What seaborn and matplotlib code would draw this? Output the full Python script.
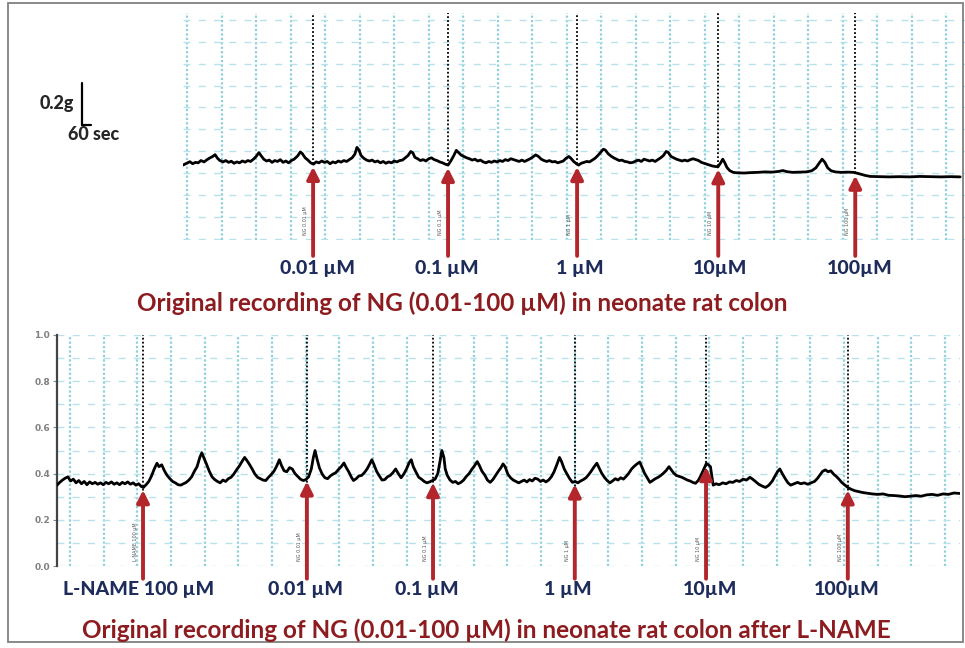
import numpy as np
import matplotlib
matplotlib.use("Agg")
import matplotlib.pyplot as plt
import seaborn as sns
from matplotlib.lines import Line2D
from matplotlib.patches import Rectangle

# ---- data (time in grid divisions, force in g) ----
top_t = [-0.06, 0.05, 0.14, 0.22, 0.30, 0.38, 0.46, 0.55, 0.62, 0.70, 0.80, 0.87, 0.94, 1.01, 1.10,
         1.18, 1.26, 1.34, 1.42, 1.50, 1.58, 1.66, 1.74, 1.82, 1.90, 1.98, 2.06, 2.14, 2.20, 2.28,
         2.36, 2.44, 2.52, 2.60, 2.68, 2.76, 2.84, 2.92, 3.00, 3.08, 3.16, 3.26, 3.34, 3.40, 3.48,
         3.56, 3.64, 3.72, 3.80, 3.88, 3.96, 4.04, 4.12, 4.20, 4.28, 4.36, 4.44, 4.52, 4.60, 4.68,
         4.76, 4.84, 4.92, 4.98, 5.04, 5.10, 5.18, 5.26, 5.34, 5.42, 5.50, 5.58, 5.66, 5.74, 5.82,
         5.90, 5.98, 6.06, 6.14, 6.22, 6.30, 6.38, 6.46, 6.54, 6.60, 6.66, 6.74, 6.82, 6.90, 6.98,
         7.06, 7.14, 7.22, 7.30, 7.38, 7.46, 7.54, 7.62, 7.70, 7.78, 7.86, 7.92, 8.00, 8.08, 8.16,
         8.24, 8.32, 8.40, 8.48, 8.56, 8.64, 8.72, 8.80, 8.88, 8.96, 9.04, 9.12, 9.20, 9.28, 9.36,
         9.44, 9.52, 9.60, 9.68, 9.76, 9.84, 9.92, 10.00, 10.08, 10.16, 10.24, 10.32, 10.40, 10.48,
         10.56, 10.64, 10.72, 10.80, 10.88, 10.96, 11.04, 11.12, 11.18, 11.26, 11.34, 11.40, 11.48,
         11.56, 11.64, 11.72, 11.80, 11.88, 11.96, 12.04, 12.12, 12.18, 12.26, 12.34, 12.42, 12.50,
         12.58, 12.66, 12.74, 12.82, 12.90, 12.98, 13.06, 13.14, 13.22, 13.30, 13.38, 13.46, 13.54,
         13.62, 13.70, 13.78, 13.86, 13.94, 14.00, 14.08, 14.16, 14.24, 14.32, 14.40, 14.48, 14.56,
         14.64, 14.72, 14.80, 14.88, 14.96, 15.04, 15.12, 15.20, 15.28, 15.36, 15.44, 15.52, 15.58,
         15.64, 15.70, 15.78, 15.88, 16.00, 16.20, 16.40, 16.60, 16.80, 17.00, 17.20, 17.32, 17.44,
         17.60, 17.80, 18.00, 18.16, 18.28, 18.38, 18.46, 18.54, 18.62, 18.72, 18.84, 19.00, 19.20,
         19.36, 19.48, 19.60, 19.72, 19.86, 20.10, 20.40, 20.70, 21.00, 21.30, 21.60, 21.90, 22.20,
         22.46]
top_v = [.330, .338, .345, .336, .342, .340, .350, .344, .352, .360, .368, .376, .360, .350, .344,
         .350, .342, .347, .338, .344, .340, .348, .343, .350, .346, .356, .368, .385, .372, .356,
         .348, .352, .342, .350, .346, .354, .342, .348, .340, .350, .356, .370, .388, .380, .362,
         .352, .340, .334, .344, .340, .348, .342, .346, .336, .344, .340, .348, .343, .350, .346,
         .354, .362, .378, .408, .396, .372, .360, .352, .348, .352, .344, .348, .340, .346, .338,
         .344, .340, .348, .344, .350, .352, .362, .372, .390, .384, .364, .358, .350, .354, .348,
         .358, .362, .354, .350, .344, .340, .334, .330, .348, .370, .395, .386, .374, .368, .362,
         .358, .352, .356, .348, .352, .344, .340, .346, .342, .348, .344, .350, .346, .354, .350,
         .358, .354, .350, .346, .352, .346, .352, .358, .366, .375, .368, .356, .350, .346,
         .350, .344, .346, .340, .344, .348, .360, .368, .360, .346, .336, .330, .338,
         .342, .346, .344, .352, .360, .372, .386, .400, .396, .380, .370, .362, .356,
         .350, .352, .346, .344, .340, .342, .348, .352, .346, .356, .352, .348, .352,
         .346, .354, .362, .372, .390, .386, .368, .362, .356, .352, .348, .352, .348,
         .354, .358, .354, .350, .342, .338, .334, .330, .326, .324, .322, .340, .356,
         .340, .320, .306, .298, .296, .295, .297, .298, .300, .299, .302, .306, .301,
         .298, .299, .300, .305, .318, .340, .356, .342, .318, .305, .300, .298, .299,
         .298, .294, .289, .284, .280, .279, .278, .279, .278, .280, .279, .278, .279,
         .278]

bot_t = [-0.38, -0.30, -0.22, -0.14, -0.06, 0.02, 0.10, 0.18, 0.26, 0.34, 0.42, 0.50, 0.58, 0.66,
         0.74, 0.82, 0.90, 0.98, 1.06, 1.14, 1.22, 1.30, 1.38, 1.46, 1.54, 1.62, 1.70, 1.78, 1.86,
         1.94, 2.02, 2.10, 2.16, 2.24, 2.32, 2.40, 2.48, 2.56, 2.62, 2.70, 2.78, 2.86, 2.94, 3.02,
         3.10, 3.18, 3.26, 3.34, 3.42, 3.50, 3.58, 3.66, 3.74, 3.82, 3.88, 3.94, 4.02, 4.10, 4.18,
         4.26, 4.34, 4.42, 4.50, 4.58, 4.66, 4.74, 4.82, 4.90, 4.98, 5.06, 5.14, 5.20, 5.28, 5.36,
         5.44, 5.52, 5.60, 5.68, 5.76, 5.84, 5.92, 6.00, 6.08, 6.16, 6.22, 6.30, 6.38, 6.46, 6.54,
         6.62, 6.70, 6.78, 6.86, 6.94, 7.02, 7.10, 7.16, 7.21, 7.27, 7.34, 7.42, 7.50, 7.58, 7.66,
         7.74, 7.82, 7.90, 7.98, 8.06, 8.12, 8.20, 8.28, 8.34, 8.42, 8.50, 8.58, 8.66, 8.74, 8.82,
         8.88, 8.94, 9.02, 9.10, 9.18, 9.26, 9.34, 9.42, 9.50, 9.58, 9.66, 9.74, 9.82, 9.90, 9.98,
         10.04, 10.10, 10.18, 10.26, 10.34, 10.42, 10.50, 10.58, 10.66, 10.74, 10.82, 10.88, 10.94,
         11.00, 11.04, 11.10, 11.18, 11.26, 11.34, 11.42, 11.50, 11.58, 11.66, 11.74, 11.82, 11.90,
         11.98, 12.04, 12.12, 12.20, 12.28, 12.36, 12.44, 12.52, 12.60, 12.68, 12.74, 12.80, 12.88,
         12.96, 13.04, 13.12, 13.20, 13.28, 13.36, 13.44, 13.52, 13.60, 13.68, 13.76, 13.84, 13.92,
         14.00, 14.08, 14.16, 14.24, 14.32, 14.40, 14.46, 14.54, 14.62, 14.70, 14.78, 14.86, 14.94,
         15.02, 15.10, 15.18, 15.26, 15.34, 15.42, 15.50, 15.56, 15.64, 15.72, 15.80, 15.88, 15.96,
         16.04, 16.12, 16.20, 16.28, 16.36, 16.44, 16.52, 16.60, 16.68, 16.76, 16.82, 16.90, 16.98,
         17.06, 17.14, 17.22, 17.30, 17.38, 17.46, 17.54, 17.62, 17.68, 17.76, 17.84, 17.92, 18.00,
         18.08, 18.16, 18.24, 18.32, 18.40, 18.48, 18.56, 18.64, 18.72, 18.78, 18.84, 18.88, 18.92,
         19.00, 19.10, 19.20, 19.30, 19.40, 19.50, 19.60, 19.70, 19.80, 19.90, 20.00, 20.08, 20.16,
         20.26, 20.36, 20.46, 20.56, 20.66, 20.74, 20.82, 20.88, 20.96, 21.04, 21.12, 21.20, 21.30,
         21.40, 21.50, 21.60, 21.70, 21.80, 21.90, 21.98, 22.06, 22.14, 22.22, 22.30, 22.38, 22.46,
         22.54, 22.62, 22.70, 22.78, 22.88, 22.98, 23.08, 23.20, 23.32, 23.46, 23.60, 23.76, 23.92,
         24.08, 24.24, 24.40, 24.56, 24.72, 24.88, 25.04, 25.20, 25.36, 25.52, 25.68, 25.84, 26.00,
         26.18]
bot_v = [.350, .362, .372, .380, .386, .368, .376, .360, .370, .356, .366, .352, .364, .356,
         .362, .354, .360, .352, .362, .356, .364, .354, .360, .352, .362, .356, .364, .354, .360,
         .350, .356, .344, .340, .352, .366, .390, .420, .445, .430, .438, .412, .392, .378, .366,
         .360, .352, .350, .356, .362, .372, .386, .410, .430, .470, .490, .468, .440, .410, .386,
         .374, .366, .360, .372, .366, .378, .384, .398, .416, .432, .452, .470, .458, .440, .420,
         .398, .384, .378, .372, .370, .384, .396, .410, .432, .460, .436, .412, .408, .426, .420,
         .400, .388, .376, .370, .374, .386, .420, .470, .500, .462, .424, .398, .382, .378, .390,
         .398, .404, .418, .430, .446, .428, .408, .384, .370, .378, .390, .392, .404, .420, .442,
         .460, .440, .410, .390, .372, .374, .386, .392, .404, .420, .400, .382, .398, .420, .448,
         .460, .430, .406, .384, .376, .366, .360, .364, .370, .376, .400, .448, .500,
         .470, .420, .392, .372, .362, .366, .356, .362, .372, .388, .400, .418, .434,
         .452, .436, .410, .394, .372, .362, .374, .392, .410, .426, .442, .430, .398,
         .382, .372, .366, .360, .366, .372, .364, .374, .368, .380, .376, .366, .372,
         .364, .372, .386, .408, .438, .470, .452, .420, .398, .378, .362, .366, .360,
         .368, .374, .382, .396, .412, .430, .445, .426, .402, .384, .370, .360, .368,
         .378, .372, .382, .376, .388, .402, .420, .432, .442, .450, .430, .402, .382,
         .362, .370, .378, .384, .392, .402, .414, .430, .418, .402, .392, .388, .384,
         .378, .372, .368, .362, .358, .370, .392, .418, .444, .438, .430, .390, .350,
         .356, .352, .360, .356, .364, .362, .370, .366, .376, .372, .384, .376, .366,
         .354, .346, .340, .350, .368, .390, .410, .420, .398, .378, .360, .350, .356,
         .362, .356, .360, .354, .360, .366, .378, .394, .410, .416, .408, .412, .398,
         .388, .376, .362, .352, .340, .332, .326, .322, .318, .315, .312, .310, .312,
         .306, .305, .303, .300, .302, .305, .302, .308, .310, .306, .312, .310, .316,
         .314]

top_events = [3.71, 7.62, 11.36, 15.45, 19.42]
top_labels = ["0.01 µM", "0.1 µM", "1 µM", "10µM", "100µM"]
top_tags = ["NG 0.01 µM", "NG 0.1 µM", "NG 1 µM", "NG 10 µM", "NG 100 µM"]
bot_events = [2.15, 6.97, 10.68, 14.85, 18.71, 22.88]
bot_labels = ["L-NAME 100 µM", "0.01 µM", "0.1 µM", "1 µM", "10µM", "100µM"]
bot_tags = ["L-NAME 100 µM", "NG 0.01 µM", "NG 0.1 µM", "NG 1 µM", "NG 10 µM", "NG 100 µM"]

top_title = "Original recording of NG (0.01-100 µM) in neonate rat colon"
bot_title = "Original recording of NG (0.01-100 µM) in neonate rat colon after L-NAME"

sns.set_style("white")
plt.rcParams['font.family'] = ['Lato', 'DejaVu Sans']

W, H = 965, 648
fig = plt.figure(figsize=(W / 100, H / 100), dpi=100)

RED = "#b3262b"
NAVY = "#1e2c5c"
MAROON = "#8c1c1f"
VGRID = "#8fd0dc"
HGRID = "#b8e2ea"


def px(x, y):
    return x / W, 1 - y / H


def panel(rect, t, v, xlim, vgrid, hgrid, events, tags, tail, full_marker):
    ax = fig.add_axes(rect)
    ax.set_xlim(*xlim)
    ax.set_ylim(0, 1)
    for g in vgrid:
        ax.axvline(g, color=VGRID, lw=1.6, ls=(0, (1, 1)), zorder=1)
    for g in hgrid:
        ax.axhline(g, color=HGRID, lw=1.0, ls=(0, (5, 6)), zorder=1)
    sns.lineplot(x=t, y=v, ax=ax, color="black", lw=2.0, estimator=None, sort=False, zorder=4)
    for ev, tag in zip(events, tags):
        lvl = np.interp(ev, t, v)
        ymin = 0 if full_marker else lvl
        ax.plot([ev, ev], [ymin, 1], color="black", lw=1.3, ls=(0, (1, 1.2)), zorder=3)
        ax.annotate("", xy=(ev, lvl - 0.012), xytext=(ev, tail),
                    arrowprops=dict(arrowstyle="-|>", color=RED, lw=2.8, mutation_scale=18,
                                    shrinkA=0, shrinkB=0),
                    annotation_clip=False, zorder=5)
        ax.text(ev - 0.22, 0.02, tag, rotation=90, fontsize=3.5, color="#555555",
                ha="center", va="bottom", family="DejaVu Sans")
    for s in ax.spines.values():
        s.set_visible(False)
    ax.set_xticks([])
    ax.set_yticks([])
    return ax


# upper recording
x0, y0 = px(183, 240)
ax1 = panel([x0, y0, (965 - 183) / W, 227 / H], top_t, top_v, (-0.06, 22.6),
            [0.06 + k for k in range(23)], [0.005 + 0.0965 * k for k in range(11)],
            top_events, top_tags, -0.07, False)

# lower recording
x0, y0 = px(57, 566)
ax2 = panel([x0, y0, 903 / W, 231 / H], bot_t, bot_v, (-0.38, 26.18),
            [0.99 * k for k in range(27)], [0.1 * k for k in range(11)],
            bot_events, bot_tags, -0.055, True)
ax2.spines["left"].set_visible(True)
ax2.spines["left"].set_color("#444444")
ax2.spines["left"].set_linewidth(1.6)
ax2.set_yticks([0, 0.2, 0.4, 0.6, 0.8, 1.0])
ax2.set_yticklabels(["0.0", "0.2", "0.4", "0.6", "0.8", "1.0"], fontsize=6.5, color="#808080",
                    family="DejaVu Sans", fontweight="bold")
ax2.tick_params(axis="y", length=3, width=0.8, color="#888888", pad=2, left=True)

# dose labels
top_lx = [317, 447, 580, 720, 860]
bot_lx = [139, 306, 427, 568, 710, 847]
for x, lab in zip(top_lx, top_labels):
    fig.text(*px(x, 268), lab, ha="center", va="center", fontsize=14, fontweight="black", color=NAVY)
for x, lab in zip(bot_lx, bot_labels):
    fig.text(*px(x, 590), lab, ha="center", va="center", fontsize=14, fontweight="black", color=NAVY)

fig.text(*px(462, 303), top_title, ha="center", va="center", fontsize=17.5, fontweight="bold", color=MAROON)
fig.text(*px(486, 630), bot_title, ha="center", va="center", fontsize=17.5, fontweight="bold", color=MAROON)

# scale bar
fig.add_artist(Line2D([82 / W, 82 / W], [1 - 83 / H, 1 - 125 / H], color="black", lw=1.6,
                      transform=fig.transFigure))
fig.add_artist(Line2D([82 / W, 91 / W], [1 - 125 / H, 1 - 125 / H], color="black", lw=1.6,
                      transform=fig.transFigure))
fig.text(*px(57, 103), "0.2g", ha="center", va="center", fontsize=13, fontweight="black")
fig.text(*px(94, 134), "60 sec", ha="center", va="center", fontsize=13, fontweight="black")

# outer frame
fig.add_artist(Rectangle((8 / W, 1 - 642 / H), (963 - 8) / W, (642 - 3) / H, fill=False,
                         ec="#808080", lw=1.3, transform=fig.transFigure))

fig.savefig("out.png", dpi=100)
